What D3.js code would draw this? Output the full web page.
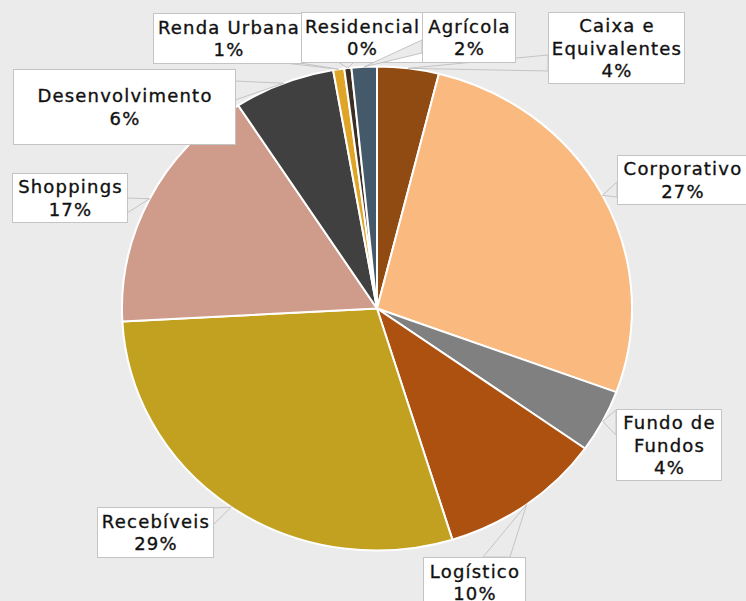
<!DOCTYPE html>
<html>
<head>
<meta charset="utf-8">
<script src="https://cdn.jsdelivr.net/npm/d3@7"></script>
<style>
  html, body { margin: 0; padding: 0; background: #EBEBEB; }
  svg { display: block; }
  text { font-family: "DejaVu Sans", sans-serif; font-size: 18px; fill: #111111; stroke: #111111; stroke-width: 0.35px; letter-spacing: 1.2px; }
</style>
</head>
<body>
<svg id="chart" width="746" height="601"></svg>
<script>
// ---- data ----
const categories = ["Caixa e Equivalentes", "Corporativo", "Fundo de Fundos", "Logístico", "Recebíveis",
                    "Shoppings", "Desenvolvimento", "Renda Urbana", "Residencial", "Agrícola"];
const values = [3.9, 26.7, 4.2, 10.4, 28.9, 16.7, 6.4, 0.7, 0.45, 1.6];
const labelLines = [["Caixa e", "Equivalentes"], ["Corporativo"], ["Fundo de", "Fundos"], ["Logístico"], ["Recebíveis"],
                    ["Shoppings"], ["Desenvolvimento"], ["Renda Urbana"], ["Residencial"], ["Agrícola"]];
const colors = ["#8F4B12", "#F9B97F", "#808080", "#AC5110", "#C2A020",
                "#CF9B8A", "#404040", "#E0A426", "#3D2E22", "#44596A"];

// ---- layout (label callout boxes and wedge bases) ----
const labelBoxes = [
  { x: 548, y: 12,  w: 136, h: 71, base: [[548, 55], [548, 71]] },
  { x: 617, y: 155, w: 130, h: 49, base: [[617, 182], [617, 197]] },
  { x: 616, y: 409, w: 105, h: 71, base: [[616, 410], [616, 435]] },
  { x: 423, y: 557, w: 102, h: 50, base: [[483, 557], [510, 557]] },
  { x: 97,  y: 507, w: 116, h: 50, base: [[213, 508], [213, 525]] },
  { x: 12,  y: 173, w: 115, h: 49, base: [[127, 198], [127, 213]] },
  { x: 13,  y: 69,  w: 222, h: 75, base: [[235, 81], [235, 100]] },
  { x: 153, y: 13,  w: 150, h: 50, base: [[285, 63], [300, 63]] },
  { x: 301, y: 12,  w: 121, h: 50, base: [[338, 62], [354, 62]] },
  { x: 422, y: 12,  w: 93,  h: 50, base: [[422, 40], [422, 53]] }
];

const cx = 377, cy = 308.5, rx = 255, ry = 242;

const svg = d3.select("#chart");
svg.append("rect").attr("width", 746).attr("height", 601).attr("fill", "#EBEBEB");

const pie = d3.pie().sort(null).value(d => d);
const arcs = pie(values);
const total = d3.sum(values);
const arc = d3.arc().innerRadius(0).outerRadius(ry);

const g = svg.append("g").attr("transform", `translate(${cx},${cy}) scale(${rx / ry},1)`);
g.selectAll("path.slice").data(arcs).join("path")
  .attr("class", "slice")
  .attr("d", arc)
  .attr("fill", (d, i) => colors[i])
  .attr("stroke", "#FFFFFF")
  .attr("stroke-width", 2)
  .attr("vector-effect", "non-scaling-stroke")
  .attr("stroke-linejoin", "round");

// ---- callouts ----
const lg = svg.append("g");
arcs.forEach((a, i) => {
  const b = labelBoxes[i];
  const mid = (a.startAngle + a.endAngle) / 2;
  const tip = [cx + rx * Math.sin(mid), cy - ry * Math.cos(mid)];
  const cg = lg.append("g");
  cg.append("path")
    .attr("d", d3.line()([b.base[0], tip, b.base[1]]) + "Z")
    .attr("fill", "#EBEBEB")
    .attr("stroke", "#C4C4C4")
    .attr("stroke-width", 1);
  cg.append("rect")
    .attr("x", b.x + 0.5).attr("y", b.y + 0.5)
    .attr("width", b.w).attr("height", b.h)
    .attr("fill", "#FFFFFF")
    .attr("stroke", "#C4C4C4")
    .attr("stroke-width", 1);
  const lines = labelLines[i].concat([Math.round(a.data / total * 100) + "%"]);
  const n = lines.length;
  const spacing = 22.5;
  const first = b.y + b.h / 2 + 7 - (n - 1) * spacing / 2;
  const t = cg.append("text").attr("text-anchor", "middle");
  lines.forEach((ln, k) => {
    t.append("tspan")
      .attr("x", b.x + b.w / 2 + 1)
      .attr("y", first + k * spacing)
      .text(ln);
  });
});
</script>
</body>
</html>
